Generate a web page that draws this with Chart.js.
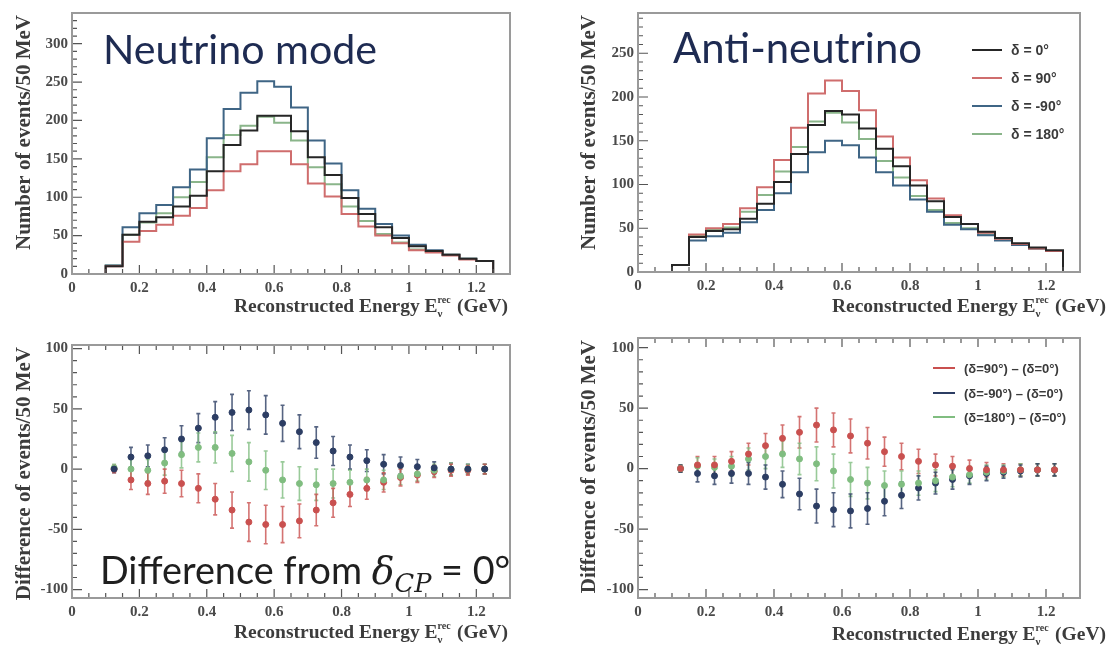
<!DOCTYPE html>
<html>
<head>
<meta charset="utf-8">
<script src="https://cdn.jsdelivr.net/npm/chart.js@4.4.1/dist/chart.umd.min.js"></script>
<style>
  html, body { margin: 0; padding: 0; background: #fff; }
  #wrap { position: relative; width: 1107px; height: 653px; overflow: hidden; }
  .panel { position: absolute; }
</style>
</head>
<body>
<div id="wrap">
  <div class="panel" style="left:0;top:0;width:560px;height:322px"><canvas id="nuHist"></canvas></div>
  <div class="panel" style="left:560px;top:0;width:547px;height:322px"><canvas id="anuHist"></canvas></div>
  <div class="panel" style="left:0;top:322px;width:560px;height:331px"><canvas id="nuDiff"></canvas></div>
  <div class="panel" style="left:560px;top:322px;width:547px;height:331px"><canvas id="anuDiff"></canvas></div>
</div>
<script>
// bin edges (GeV) and bin centres, 50 MeV bins
const binEdges = [0.10, 0.15, 0.20, 0.25, 0.30, 0.35, 0.40, 0.45, 0.50, 0.55, 0.60, 0.65,
                  0.70, 0.75, 0.80, 0.85, 0.90, 0.95, 1.00, 1.05, 1.10, 1.15, 1.20, 1.25];
const binCenters = [0.125, 0.175, 0.225, 0.275, 0.325, 0.375, 0.425, 0.475, 0.525, 0.575, 0.625, 0.675,
                    0.725, 0.775, 0.825, 0.875, 0.925, 0.975, 1.025, 1.075, 1.125, 1.175, 1.225];

// neutrino mode, events / 50 MeV
const nuDelta0   = [10, 51, 68, 74, 88, 102, 134, 168, 187, 206, 206, 186, 152, 129, 99, 78, 61, 47, 36, 30, 25, 20, 17];
const nuDelta90  = [10, 42, 56, 64, 76, 86, 109, 134, 143, 160, 160, 143, 118, 101, 78, 62, 50, 40, 31, 28, 24, 19, 17];
const nuDeltaM90 = [11, 61, 79, 90, 113, 136, 177, 215, 236, 251, 244, 217, 174, 144, 109, 85, 65, 50, 38, 31, 25, 20, 17];
const nuDelta180 = [11, 51, 67, 79, 100, 120, 152, 181, 193, 205, 197, 174, 139, 117, 88, 69, 52, 41, 32, 29, 25, 20, 17];

// anti-neutrino mode, events / 50 MeV
const anuDelta0   = [8, 40, 47, 49, 61, 78, 103, 135, 168, 184, 180, 164, 141, 121, 99, 81, 63, 55, 46, 39, 33, 28, 25];
const anuDelta90  = [8, 43, 50, 55, 73, 97, 128, 165, 204, 219, 207, 185, 155, 131, 105, 84, 65, 55, 45, 38, 32, 27, 24];
const anuDeltaM90 = [8, 36, 41, 45, 57, 71, 90, 114, 137, 150, 145, 131, 114, 99, 83, 69, 54, 49, 42, 36, 31, 27, 24];
const anuDelta180 = [8, 42, 48, 51, 69, 88, 115, 143, 172, 182, 171, 152, 127, 108, 87, 71, 56, 50, 43, 37, 32, 27, 24];

// differences from delta = 0
const nuDiff90   = [0, -9, -12, -10, -12, -16, -25, -34, -44, -46, -46, -43, -34, -28, -21, -16, -11, -7, -5, -2, -1, -1, 0];
const nuDiffM90  = [0, 10, 11, 16, 25, 34, 43, 47, 49, 45, 38, 31, 22, 15, 10, 7, 4, 3, 2, 1, 0, 0, 0];
const nuDiff180  = [1, 0, -1, 5, 12, 18, 18, 13, 6, -1, -9, -12, -13, -12, -11, -9, -9, -6, -4, -1, 0, 0, 0];
const nuDiffErr  = [3, 8, 9, 10, 11, 12, 13, 15, 16, 16, 15, 14, 13, 12, 10, 9, 8, 7, 6, 5, 5, 4, 4];

const anuDiff90  = [0, 3, 3, 6, 12, 19, 25, 30, 36, 32, 27, 21, 14, 10, 6, 3, 2, 0, -1, -1, -1, -1, -1];
const anuDiffM90 = [0, -4, -6, -4, -4, -7, -13, -21, -31, -34, -35, -33, -27, -22, -16, -12, -9, -6, -4, -3, -2, -1, -1];
const anuDiff180 = [0, 2, 1, 2, 8, 10, 12, 8, 4, -2, -9, -12, -14, -13, -12, -10, -7, -5, -3, -2, -1, -1, -1];
const anuDiffErr = [3, 7, 7, 8, 9, 10, 11, 13, 14, 14, 14, 13, 12, 11, 10, 9, 8, 7, 6, 5, 5, 5, 5];

// axis ticks
const xTickValues = [0, 0.2, 0.4, 0.6, 0.8, 1.0, 1.2];
const xTickLabels = ['0', '0.2', '0.4', '0.6', '0.8', '1', '1.2'];
const nuHistTicks = [0, 50, 100, 150, 200, 250, 300];
const anuHistTicks = [0, 50, 100, 150, 200, 250];
const diffTicks = [-100, -50, 0, 50, 100];

const histColors = { d0: '#262626', d90: '#cf6d6d', dm90: '#3f6585', d180: '#8ab58a' };
const diffColors = { d90: '#c9504f', dm90: '#2c3d63', d180: '#80bd80' };

const tickFont = { family: 'Liberation Serif', size: 15, weight: 'bold' };
const serifBold = '"Liberation Serif", serif';

function histPoints(vals) {
  const pts = [{ x: binEdges[0], y: 0 }];
  vals.forEach((v, i) => pts.push({ x: binEdges[i], y: v }));
  pts.push({ x: binEdges[binEdges.length - 1], y: 0 });
  return pts;
}

function histSet(label, vals, color) {
  return { label, data: histPoints(vals), borderColor: color, borderWidth: 2,
           stepped: true, pointRadius: 0, fill: false, tension: 0 };
}

function diffSet(label, vals, errs, color) {
  return { label, data: vals.map((v, i) => ({ x: binCenters[i], y: v })), errors: errs,
           showLine: false, pointRadius: 3, pointBackgroundColor: color,
           pointBorderColor: color, borderColor: color };
}

// inward ROOT-style ticks and grey frame
const framePlugin = {
  id: 'frame',
  afterDraw(chart, args, opts) {
    const { ctx, chartArea: a, scales: { x, y } } = chart;
    ctx.save();
    ctx.strokeStyle = '#555';
    ctx.lineWidth = 1.2;
    ctx.beginPath();
    for (let k = 0; k <= 26; k++) {
      const v = k * 0.05;
      const px = x.getPixelForValue(v);
      const len = k % 4 === 0 ? 9 : 5;
      ctx.moveTo(px, a.bottom); ctx.lineTo(px, a.bottom - len);
      if (opts.topTicks) { ctx.moveTo(px, a.top); ctx.lineTo(px, a.top + len); }
    }
    for (let v = Math.ceil(y.min / 10) * 10; v <= y.max; v += 10) {
      const py = y.getPixelForValue(v);
      const len = v % 50 === 0 ? 10 : 5;
      ctx.moveTo(a.left, py); ctx.lineTo(a.left + len, py);
    }
    ctx.stroke();
    ctx.strokeStyle = '#9a9a9a';
    ctx.lineWidth = 2;
    ctx.strokeRect(a.left, a.top, a.right - a.left, a.bottom - a.top);
    ctx.restore();
  }
};

const errorBarPlugin = {
  id: 'errorBars',
  beforeDatasetsDraw(chart) {
    const { ctx, scales: { y } } = chart;
    chart.data.datasets.forEach((ds, i) => {
      if (!ds.errors) return;
      const meta = chart.getDatasetMeta(i);
      ctx.save();
      ctx.strokeStyle = ds.borderColor;
      ctx.globalAlpha = 0.8;
      ctx.lineWidth = 1.6;
      ctx.beginPath();
      meta.data.forEach((pt, j) => {
        const v = ds.data[j].y, e = ds.errors[j];
        const yt = y.getPixelForValue(v + e), yb = y.getPixelForValue(v - e);
        ctx.moveTo(pt.x, yt); ctx.lineTo(pt.x, yb);
        ctx.moveTo(pt.x - 2, yt); ctx.lineTo(pt.x + 2, yt);
        ctx.moveTo(pt.x - 2, yb); ctx.lineTo(pt.x + 2, yb);
      });
      ctx.stroke();
      ctx.restore();
    });
  }
};

function drawRich(ctx, pieces, x, baseline, alignRight) {
  let total = 0;
  pieces.forEach(p => { ctx.font = p.font; if (!p.stack) total += ctx.measureText(p.t).width; });
  let cx = alignRight ? x - total : x;
  pieces.forEach(p => {
    ctx.font = p.font;
    ctx.fillText(p.t, cx, baseline + (p.dy || 0));
    if (!p.stack) cx += ctx.measureText(p.t).width;
  });
}

function fitFont(ctx, text, family, weight, target) {
  ctx.font = weight + ' 40px ' + family;
  return 40 * target / ctx.measureText(text).width;
}

// axis titles, panel titles and legends
const textPlugin = {
  id: 'texts',
  afterDraw(chart, args, o) {
    const { ctx, chartArea: a } = chart;
    ctx.save();
    ctx.fillStyle = '#3c3c3c';
    ctx.textAlign = 'left';
    ctx.textBaseline = 'alphabetic';
    const f = 'bold 19.5px ' + serifBold;
    drawRich(ctx, [
      { t: 'Reconstructed Energy E', font: f },
      { t: 'rec', font: 'bold 10px ' + serifBold, dy: -9, stack: true },
      { t: 'ν', font: 'bold 11px ' + serifBold, dy: 5 },
      { t: '   (GeV)', font: f }
    ], o.xTitleRight, o.xTitleBase, true);

    ctx.save();
    ctx.translate(o.yTitleX, a.top + 2);
    ctx.rotate(-Math.PI / 2);
    ctx.textAlign = 'right';
    ctx.font = 'bold 21px ' + serifBold;
    ctx.fillText(o.yTitle, 0, 0);
    ctx.restore();

    if (o.title) {
      ctx.fillStyle = '#1e2b52';
      const size = fitFont(ctx, o.title, 'Lato', 'normal', o.titleWidth);
      ctx.font = size.toFixed(1) + 'px Lato';
      ctx.fillText(o.title, o.titleX, o.titleBase);
    }
    if (o.diffTitle) {
      ctx.fillStyle = '#1f1f1f';
      const s = 40;
      const pieces = [
        { t: 'Difference from ', font: s + 'px Lato' },
        { t: 'δ', font: 'italic ' + s + 'px "DejaVu Serif"' },
        { t: 'CP', font: 'italic ' + (s * 0.68).toFixed(1) + 'px "DejaVu Serif"', dy: 8 },
        { t: ' = 0°', font: s + 'px Lato' }
      ];
      let w = 0;
      pieces.forEach(p => { ctx.font = p.font; w += ctx.measureText(p.t).width; });
      const k = o.diffTitleWidth / w;
      pieces.forEach(p => { p.font = p.font.replace(/([\d.]+)px/, (m, n) => (n * k).toFixed(1) + 'px'); p.dy = (p.dy || 0) * k; });
      drawRich(ctx, pieces, o.diffTitleX, o.diffTitleBase, false);
    }
    if (o.legend) {
      ctx.font = 'bold ' + o.legendSize + 'px "Liberation Sans", sans-serif';
      ctx.textBaseline = 'middle';
      o.legend.forEach((it, i) => {
        const yy = o.legendY[i];
        ctx.strokeStyle = it.color;
        ctx.lineWidth = 2;
        ctx.beginPath(); ctx.moveTo(o.legendX, yy); ctx.lineTo(o.legendX + o.legendLine, yy); ctx.stroke();
        ctx.fillStyle = '#3a3a3a';
        ctx.fillText(it.text, o.legendX + o.legendLine + 9, yy + 1);
      });
    }
    ctx.restore();
  }
};

function makeChart(id, datasets, cfg) {
  return new Chart(document.getElementById(id), {
    type: 'line',
    data: { datasets },
    plugins: [framePlugin, errorBarPlugin, textPlugin],
    options: {
      animation: false,
      responsive: true,
      maintainAspectRatio: false,
      layout: { padding: { top: cfg.padTop, right: cfg.padRight, left: 0, bottom: 0 } },
      plugins: {
        legend: { display: false },
        tooltip: { enabled: false },
        frame: { topTicks: cfg.topTicks },
        texts: cfg.texts
      },
      scales: {
        x: {
          type: 'linear', min: 0, max: 1.3,
          afterBuildTicks: s => { s.ticks = xTickValues.map(v => ({ value: v })); },
          afterFit: s => { s.height = cfg.xHeight; },
          ticks: { callback: (v, i) => xTickLabels[i], font: tickFont, color: '#4a4a4a',
                   padding: 5, maxRotation: 0, autoSkip: false },
          grid: { display: false, drawTicks: false }, border: { display: false }
        },
        y: {
          type: 'linear', min: cfg.yMin, max: cfg.yMax,
          afterBuildTicks: s => { s.ticks = cfg.yTicks.map(v => ({ value: v })); },
          afterFit: s => { s.width = cfg.yWidth; },
          ticks: { font: tickFont, color: '#4a4a4a', padding: 4, autoSkip: false },
          grid: { display: false, drawTicks: false }, border: { display: false }
        }
      }
    }
  });
}

makeChart('nuHist', [
  histSet('δ = 0°', nuDelta0, histColors.d0),
  histSet('δ = 90°', nuDelta90, histColors.d90),
  histSet('δ = -90°', nuDeltaM90, histColors.dm90),
  histSet('δ = 180°', nuDelta180, histColors.d180)
], { padTop: 13, padRight: 50, xHeight: 48, yWidth: 72, yMin: 0, yMax: 340, yTicks: nuHistTicks,
     topTicks: false,
     texts: { xTitleRight: 508, xTitleBase: 312, yTitleX: 30, yTitle: 'Number of events/50 MeV',
              title: 'Neutrino mode', titleX: 103, titleBase: 64, titleWidth: 274 } });

makeChart('anuHist', [
  histSet('δ = 0°', anuDelta0, histColors.d0),
  histSet('δ = 90°', anuDelta90, histColors.d90),
  histSet('δ = -90°', anuDeltaM90, histColors.dm90),
  histSet('δ = 180°', anuDelta180, histColors.d180)
], { padTop: 11, padRight: 27, xHeight: 50, yWidth: 78, yMin: 0, yMax: 296, yTicks: anuHistTicks,
     topTicks: false,
     texts: { xTitleRight: 546, xTitleBase: 312, yTitleX: 35, yTitle: 'Number of events/50 MeV',
              title: 'Anti-neutrino', titleX: 113, titleBase: 63, titleWidth: 249,
              legend: [
                { text: 'δ = 0°', color: histColors.d0 },
                { text: 'δ = 90°', color: histColors.d90 },
                { text: 'δ = -90°', color: histColors.dm90 },
                { text: 'δ = 180°', color: histColors.d180 }
              ],
              legendX: 412, legendLine: 30, legendY: [50, 78, 106, 134], legendSize: 14 } });

makeChart('nuDiff', [
  diffSet('(δ=-90°) - (δ=0°)', nuDiffM90, nuDiffErr, diffColors.dm90),
  diffSet('(δ=180°) - (δ=0°)', nuDiff180, nuDiffErr, diffColors.d180),
  diffSet('(δ=90°) - (δ=0°)', nuDiff90, nuDiffErr, diffColors.d90)
], { padTop: 23, padRight: 50, xHeight: 55, yWidth: 72, yMin: -107, yMax: 103, yTicks: diffTicks,
     topTicks: true,
     texts: { xTitleRight: 508, xTitleBase: 316, yTitleX: 30, yTitle: 'Difference of events/50 MeV',
              diffTitle: true, diffTitleX: 100, diffTitleBase: 262, diffTitleWidth: 410 } });

makeChart('anuDiff', [
  diffSet('(δ=90°) - (δ=0°)', anuDiff90, anuDiffErr, diffColors.d90),
  diffSet('(δ=180°) - (δ=0°)', anuDiff180, anuDiffErr, diffColors.d180),
  diffSet('(δ=-90°) - (δ=0°)', anuDiffM90, anuDiffErr, diffColors.dm90)
], { padTop: 16, padRight: 27, xHeight: 55, yWidth: 78, yMin: -107, yMax: 108, yTicks: diffTicks,
     topTicks: true,
     texts: { xTitleRight: 546, xTitleBase: 318, yTitleX: 35, yTitle: 'Difference of events/50 MeV',
              legend: [
                { text: '(δ=90°) – (δ=0°)', color: diffColors.d90 },
                { text: '(δ=-90°) – (δ=0°)', color: diffColors.dm90 },
                { text: '(δ=180°) – (δ=0°)', color: diffColors.d180 }
              ],
              legendX: 373, legendLine: 22, legendY: [46, 71, 95], legendSize: 13 } });
</script>
</body>
</html>
